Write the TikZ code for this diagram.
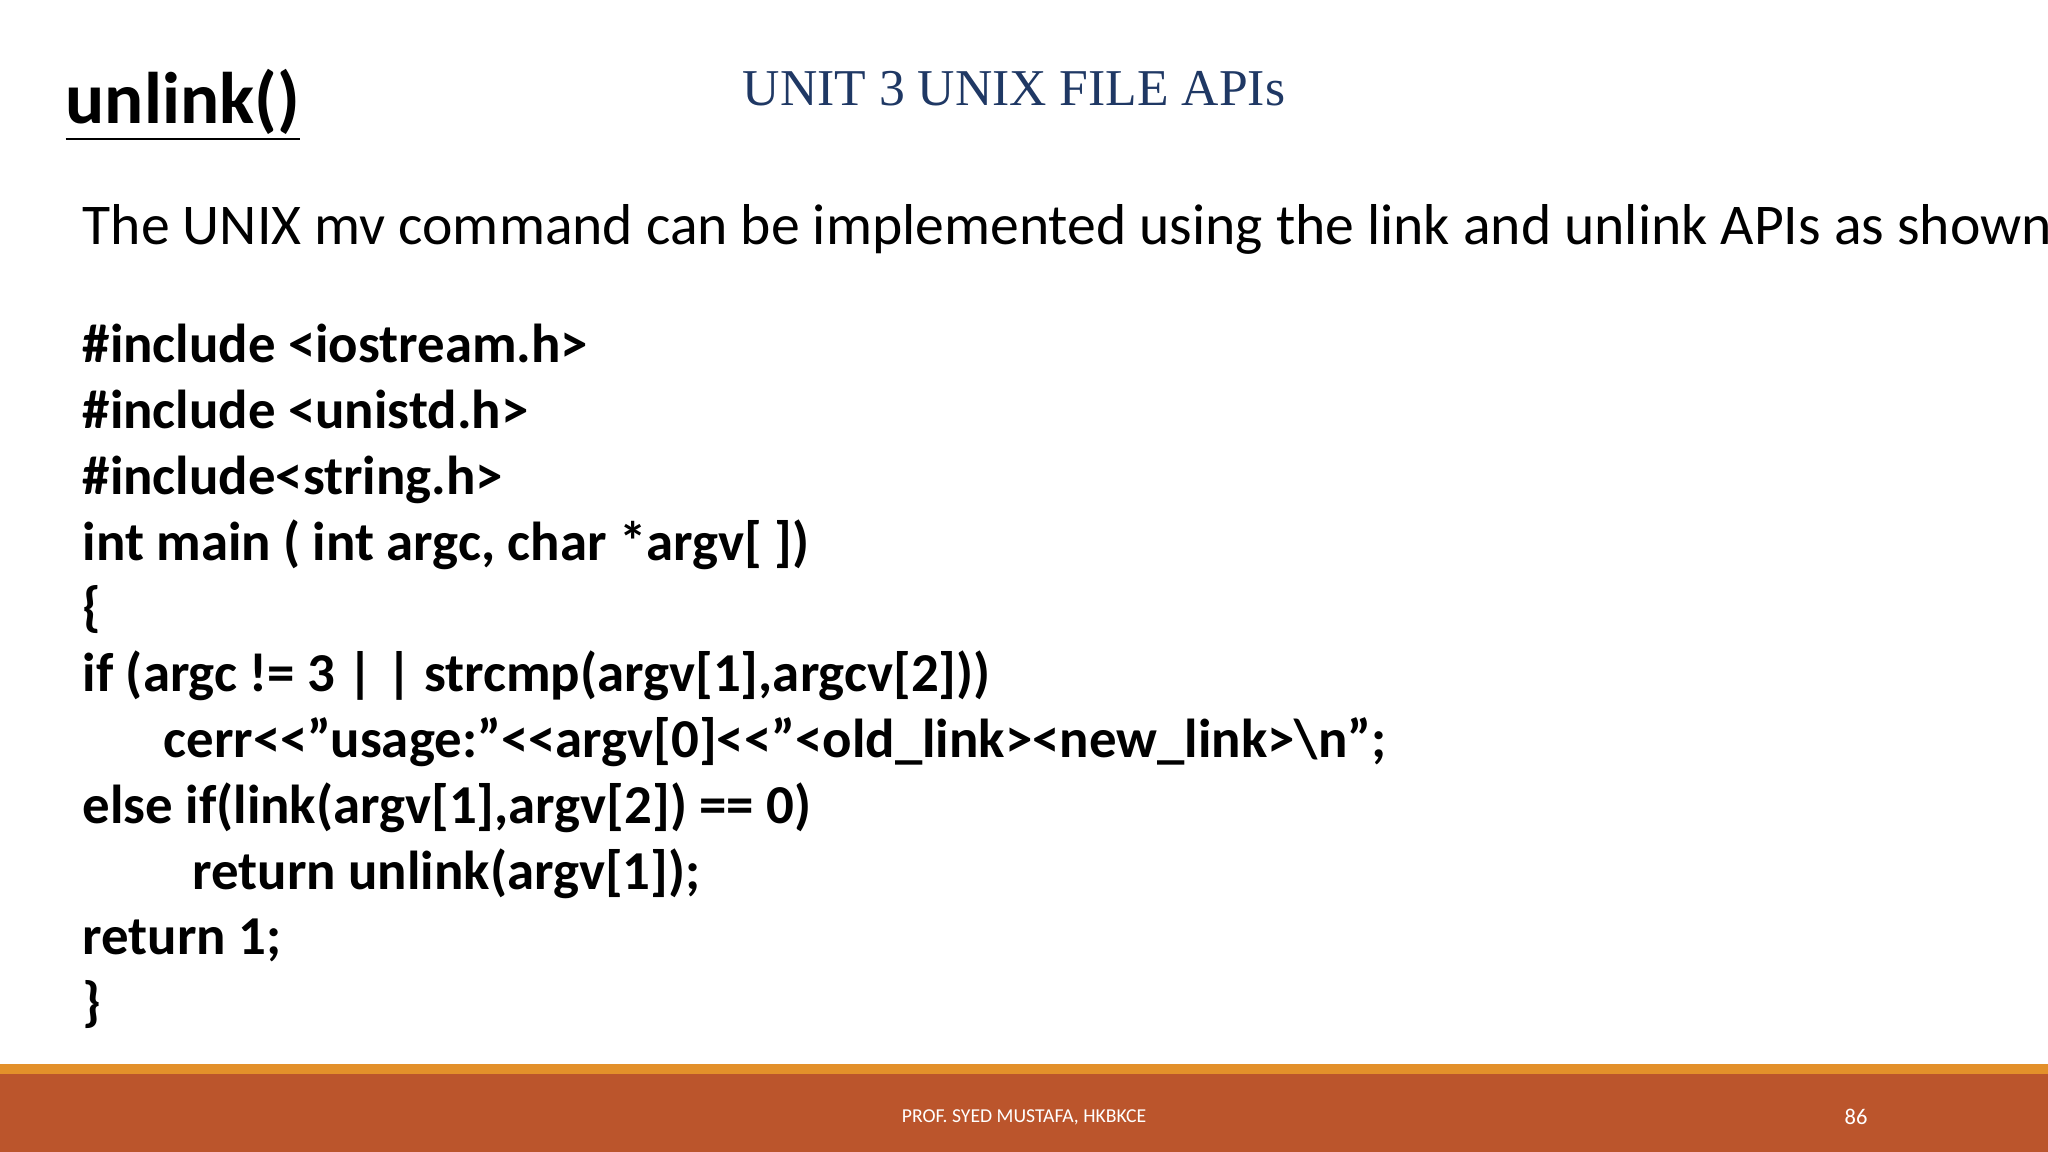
\documentclass[tikz,border=0pt]{standalone}
\usepackage{fontspec}
\setmainfont{Carlito}
\newfontfamily\headfont{Liberation Serif}
\usetikzlibrary{positioning}
\definecolor{headblue}{HTML}{1F3864}
\definecolor{barorange}{HTML}{E3902A}
\definecolor{barbrown}{HTML}{BB552C}
\begin{document}
\begin{tikzpicture}
	\def \codex{0.82}
	\def \lineht{0.658}
	\tikzstyle{code-line}=[anchor=west,inner sep=0pt,font=\fontsize{15.6}{18}\selectfont\bfseries,text height=0.72em,text depth=0.22em]
	\tikzstyle{foot-text}=[text=white,inner sep=0pt,font=\fontsize{5.6}{7}\selectfont]
	\useasboundingbox (0,0) rectangle (20.48,-11.52);
	\fill[white] (0,0) rectangle (20.48,-11.52);
	% footer bars
	\fill[barorange] (0,-10.64) rectangle (20.48,-10.74);
	\fill[barbrown] (0,-10.74) rectangle (20.48,-11.52);
	\node[foot-text] (author) at (10.24,-11.17) {PROF. SYED MUSTAFA, HKBKCE};
	\node[foot-text,font=\fontsize{6.4}{8}\selectfont] (page) at (18.56,-11.17) {86};
	% headings
	\node[anchor=west,inner sep=0pt,font=\fontsize{20.8}{25}\selectfont\bfseries] (title) at (0.65,-1.05) {\underline{unlink()}};
	\node[text=headblue,inner sep=0pt,font=\headfont\fontsize{14.7}{18}\selectfont] (unit) at (10.14,-0.89) {UNIT 3 UNIX FILE APIs};
	\node[anchor=west,inner sep=0pt,font=\fontsize{16.4}{20}\selectfont] (intro) at (\codex,-2.29) {The UNIX mv command can be implemented using the link and unlink APIs as shown:};
	% code
	\node[code-line] (c0) at (\codex,-3.54) {\#include <iostream.h>};
	\node[code-line] (c1) at (\codex,-3.54-1*\lineht) {\#include <unistd.h>};
	\node[code-line] (c2) at (\codex,-3.54-2*\lineht) {\#include<string.h>};
	\node[code-line] (c3) at (\codex,-3.54-3*\lineht) {int main ( int argc, char *argv[ ])};
	\node[code-line] (c4) at (\codex,-3.54-4*\lineht) {\{};
	\node[code-line] (c5) at (\codex,-3.54-5*\lineht) {if (argc != 3 | | strcmp(argv[1],argcv[2]))};
	\node[code-line] (c6) at (1.63,-3.54-6*\lineht) {cerr<{}<”usage:”<{}<argv[0]<{}<”<old\_link><new\_link>\textbackslash n”;};
	\node[code-line] (c7) at (\codex,-3.54-7*\lineht) {else if(link(argv[1],argv[2]) == 0)};
	\node[code-line] (c8) at (1.92,-3.54-8*\lineht) {return unlink(argv[1]);};
	\node[code-line] (c9) at (\codex,-3.54-9*\lineht) {return 1;};
	\node[code-line] (c10) at (\codex,-3.54-10*\lineht) {\}};
\end{tikzpicture}
\end{document}
